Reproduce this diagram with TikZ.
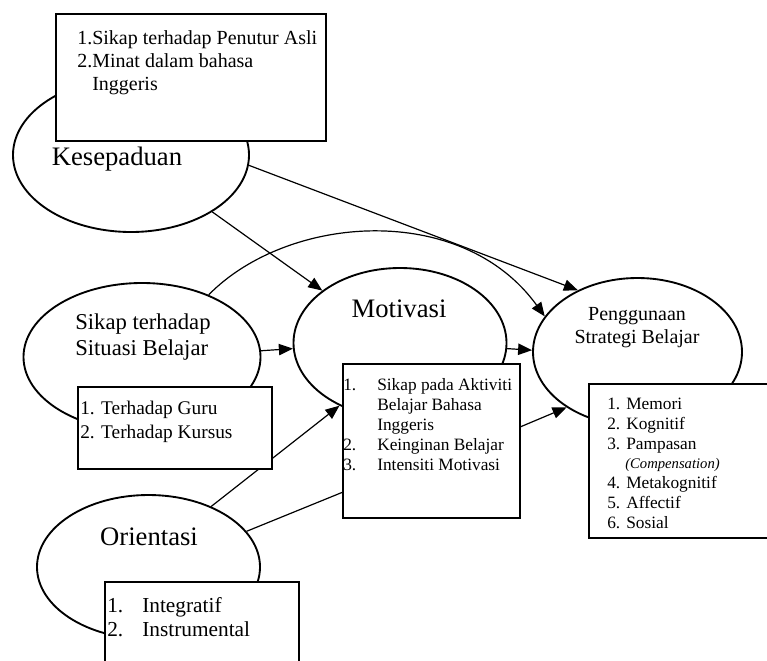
\documentclass[tikz,border=0pt]{standalone}
\usepackage{fontspec}
\setmainfont{Liberation Serif}
\usetikzlibrary{arrows.meta,shapes.geometric,backgrounds}

\newcommand{\listno}[2]{\makebox[#1][l]{#2}}

\begin{document}
\begin{tikzpicture}[
    x=0.75pt, y=-0.75pt,
    factor/.style={
        draw,
        ellipse,
        line width=1.4pt,
        inner sep=0pt
    },
    itembox/.style={
        draw,
        rectangle,
        fill=white,
        line width=1.3pt,
        inner sep=0pt,
        anchor=north west
    },
    boxtext/.style={anchor=north west, align=left, inner sep=0pt},
    link/.style={-{Triangle[length=10.5pt,width=8.5pt]},line width=0.9pt}
]
\useasboundingbox (0,0) rectangle (767,660);
\clip (0,0) rectangle (767,660);

\node[factor,minimum width=177pt,minimum height=115.5pt] (kes) at (131,155) {};
\node[factor,minimum width=177.75pt,minimum height=111pt] (sikap) at (142,357) {};
\node[factor,minimum width=159.75pt,minimum height=112.5pt] (mot) at (400,343) {};
\node[factor,minimum width=156.75pt,minimum height=111pt] (strat) at (637.5,352) {};
\node[factor,minimum width=167.25pt,minimum height=108pt] (ori) at (148.5,567) {};

\node[itembox,minimum width=202.5pt,minimum height=95.25pt] (kesbox) at (55,13) {};
\node[itembox,minimum width=145.5pt,minimum height=61.5pt] (sikapbox) at (77,386) {};
\node[itembox,minimum width=132.75pt,minimum height=115.5pt] (motbox) at (342,363) {};
\node[itembox,minimum width=150pt,minimum height=115.5pt] (stratbox) at (588,383) {};
\node[itembox,minimum width=145.5pt,minimum height=75pt] (oribox) at (104,581) {};

\node[font=\fontsize{20}{24}\selectfont,anchor=base] (kestext) at (117,165) {Kesepaduan};
\node[boxtext,font=\fontsize{17}{19.5}\selectfont] (sikaptext) at (75,314) {
    Sikap terhadap\\
    Situasi Belajar
};
\node[font=\fontsize{20}{24}\selectfont,anchor=base] (mottext) at (399,317) {Motivasi};
\node[align=center,anchor=north,inner sep=0pt,font=\fontsize{15}{17.25}\selectfont] (strattext) at (637,307) {
    Penggunaan\\
    Strategi Belajar
};
\node[font=\fontsize{20}{24}\selectfont,anchor=base] (oritext) at (149,545) {Orientasi};

\node[boxtext,font=\fontsize{15}{17.5}\selectfont] (keslist) at (77,30) {
    1.Sikap terhadap Penutur Asli\\
    2.Minat dalam bahasa\\
    \phantom{2.}Inggeris
};
\node[boxtext,font=\fontsize{14.5}{17.5}\selectfont] (sikaplist) at (80,401) {
    1. Terhadap Guru\\
    2. Terhadap Kursus
};
\node[boxtext,font=\fontsize{13}{15}\selectfont] (motlist) at (343,378) {
    \listno{25.5pt}{1.}Sikap pada Aktiviti\\
    \listno{25.5pt}{}Belajar Bahasa\\
    \listno{25.5pt}{}Inggeris\\
    \listno{25.5pt}{2.}Keinginan Belajar\\
    \listno{25.5pt}{3.}Intensiti Motivasi
};
\node[boxtext,font=\fontsize{13}{14.8}\selectfont] (stratlist) at (607,398) {
    \listno{14.25pt}{1.}Memori\\
    \listno{14.25pt}{2.}Kognitif\\
    \listno{14.25pt}{3.}Pampasan\\
    \listno{13.5pt}{}{\fontsize{11}{14.8}\selectfont\itshape (Compensation)}\\
    \listno{14.25pt}{4.}Metakognitif\\
    \listno{14.25pt}{5.}Affectif\\
    \listno{14.25pt}{6.}Sosial
};
\node[boxtext,font=\fontsize{16}{18}\selectfont] (orilist) at (107,597) {
    \listno{26.25pt}{1.}Integratif\\
    \listno{26.25pt}{2.}Instrumental
};

\begin{pgfonlayer}{background}
\draw[link] (kes.-35.6) -- (mot.146.3);
\draw[link] (kes.-5.8) -- (strat.134.4);
\draw[link] (sikap.43.7) .. controls (287.8,214.2) and (461.6,201.3) .. (strat.159.3);
\draw[link] (sikap.3.9) -- (mot.183.2);
\draw[link] (mot.-3.8) -- (strat.179);
\draw[link] (ori.44.3) -- (mot.-134);
\draw[line width=0.9pt] (ori.20.5) -- (motbox.210.9);
\draw[link] (motbox.9.6) -- (strat.-142.7);
\end{pgfonlayer}
\end{tikzpicture}
\end{document}
